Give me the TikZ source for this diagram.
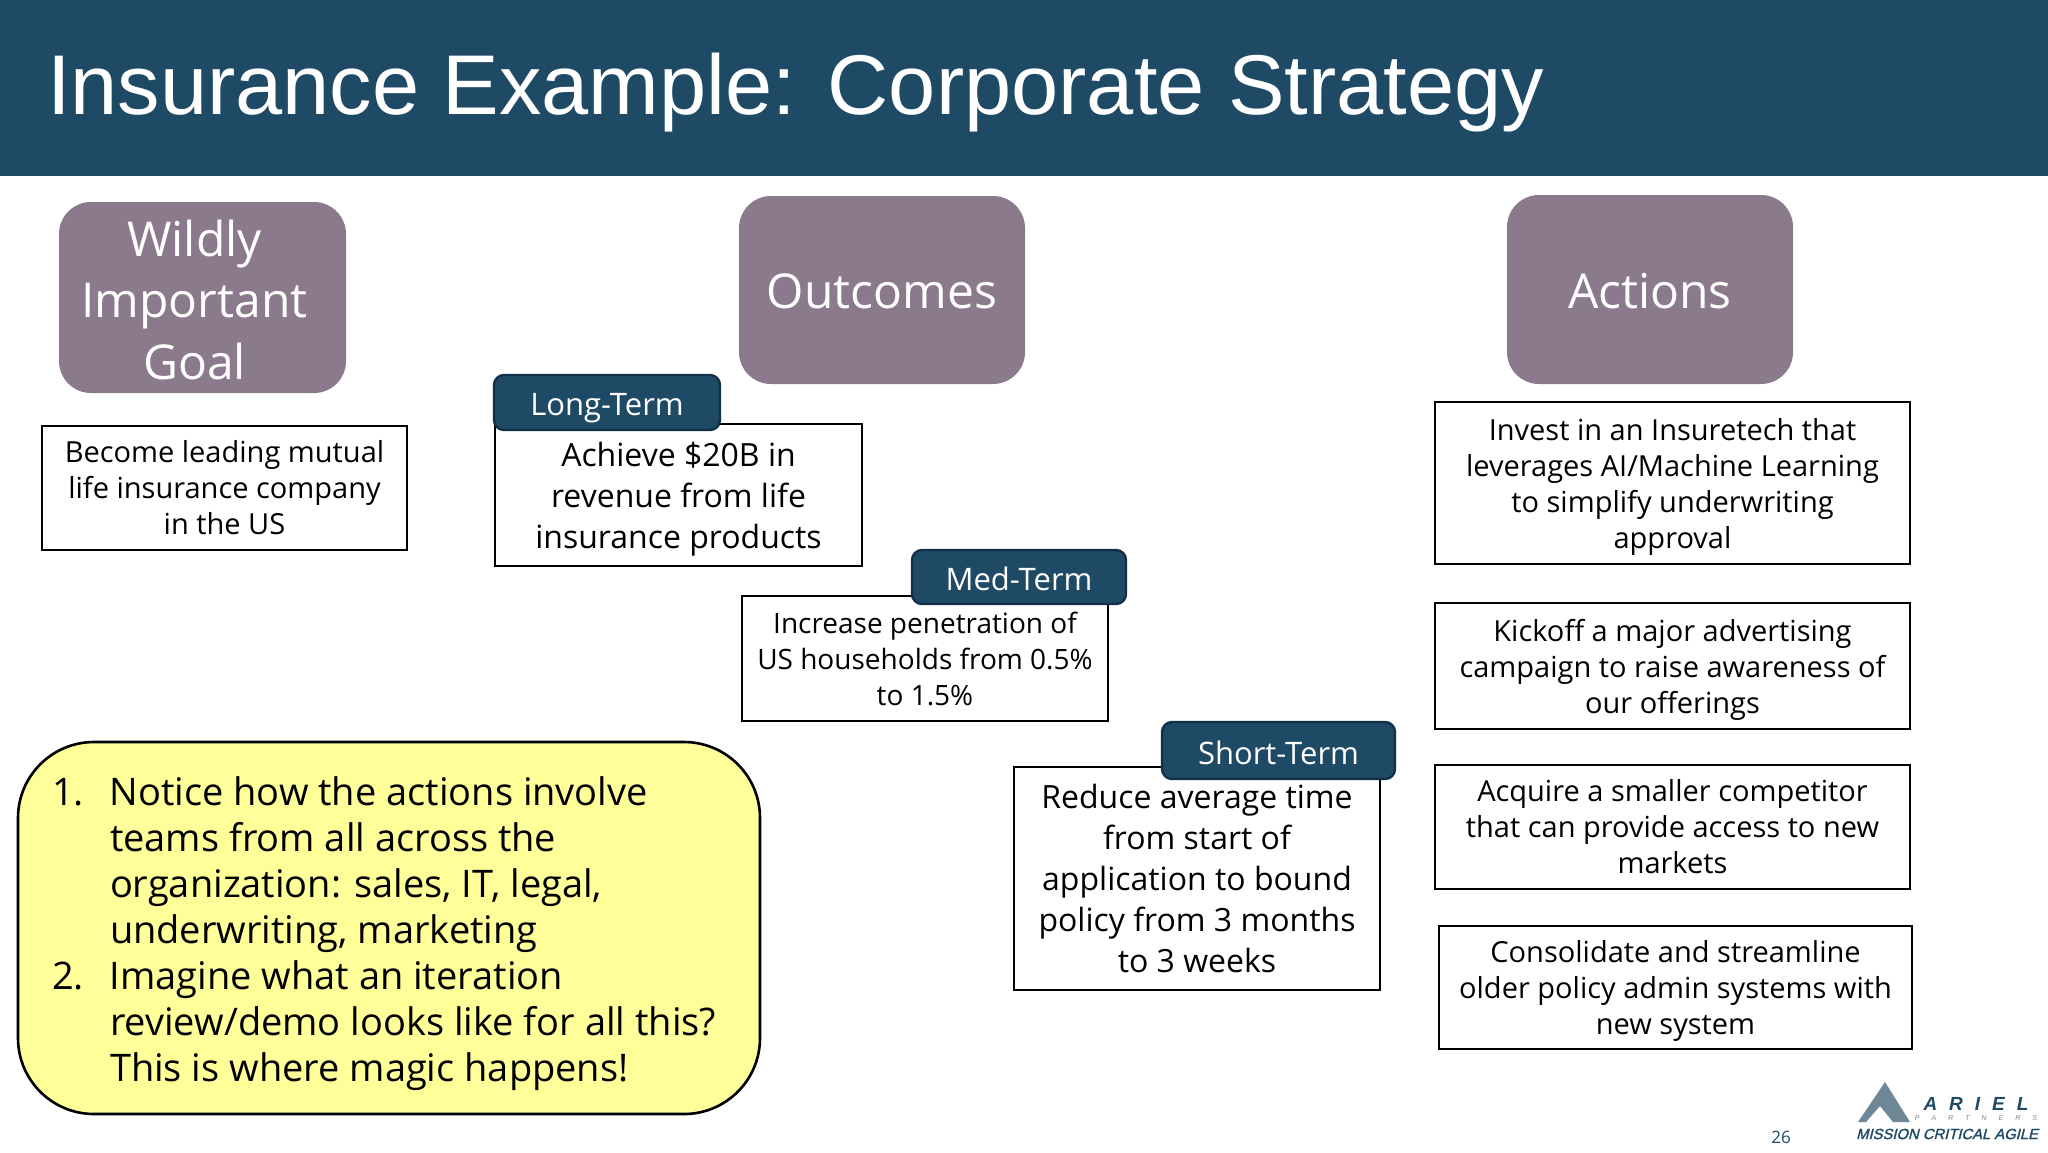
\documentclass[tikz,border=0pt]{standalone}
\usepackage{fontspec}
\setmainfont{Liberation Sans}
\newfontfamily\bodyfont{Open Sans}
\newfontfamily\logofont[FakeBold=1.6,FakeSlant=.25]{Liberation Sans}
\newcommand\pushtop[1]{\rule{0pt}{#1}}
\definecolor{headerblue}{HTML}{1F4A66}
\definecolor{tagedge}{HTML}{123047}
\definecolor{headmauve}{HTML}{8B7A8B}
\definecolor{noteyellow}{HTML}{FFFF99}
\definecolor{logoslate}{HTML}{6F8796}
\tikzset{
  headbox/.style={fill=headmauve,rounded corners=16pt,text=white,align=center,
    font=\bodyfont\fontsize{24}{30.7}\selectfont},
  textbox/.style={draw=black,line width=.6pt,fill=white,align=center,
    font=\bodyfont\fontsize{14.5}{18}\selectfont},
  bigbox/.style={textbox,font=\bodyfont\fontsize{16}{20.5}\selectfont},
  tagbox/.style={draw=tagedge,line width=1.2pt,fill=headerblue,rounded corners=5pt,text=white,
    font=\bodyfont\fontsize{15.5}{18}\selectfont},
}
\begin{document}
\begin{tikzpicture}[x=.5pt,y=-.5pt,inner sep=0pt,outer sep=0pt]
\useasboundingbox (0,0) rectangle (2048,1152);
\fill[headerblue] (0,0) rectangle (2048,176);
\node[anchor=west,text=white,font=\fontsize{42.4}{50}\selectfont] (title) at (47,93) {Insurance Example: Corporate Strategy};

\node[headbox,minimum width=143.5pt,minimum height=95.5pt] (goalhead) at (202.5,297.5) {\pushtop{20.5pt}Wildly\rule{8pt}{0pt}\\Important\rule{8pt}{0pt}\\Goal\rule{8pt}{0pt}};
\node[headbox,minimum width=143pt,minimum height=94pt] (outhead) at (882,290) {\pushtop{19pt}Outcomes};
\node[headbox,minimum width=143pt,minimum height=94.5pt] (acthead) at (1650,289.5) {\pushtop{19pt}Actions};

\node[textbox,minimum width=182.5pt,minimum height=62pt] (goal) at (224.5,488) {Become leading mutual\\life insurance company\\in the US};

\node[bigbox,minimum width=183.5pt,minimum height=71pt] (longbox) at (678.5,495) {\pushtop{16.5pt}Achieve \$20B in\\revenue from life\\insurance products};
\node[tagbox,minimum width=113pt,minimum height=27.5pt] (longtag) at (607,402.5) {\pushtop{17pt}Long-Term};
\node[textbox,font=\bodyfont\fontsize{14}{18}\selectfont,minimum width=183pt,minimum height=62.5pt] (medbox) at (925,658.5) {Increase penetration of\\US households from 0.5\%\\to 1.5\%};
\node[tagbox,minimum width=107pt,minimum height=27pt] (medtag) at (1019,577) {\pushtop{14pt}Med-Term};
\node[bigbox,minimum width=183pt,minimum height=111.5pt] (shortbox) at (1197,878.5) {Reduce average time\\from start of\\application to bound\\policy from 3 months\\to 3 weeks};
\node[tagbox,minimum width=116.5pt,minimum height=28.5pt] (shorttag) at (1278.5,750.5) {\pushtop{14pt}Short-Term};

\node[textbox,minimum width=237.5pt,minimum height=81pt] (act1) at (1672.5,483) {\pushtop{14.5pt}Invest in an Insuretech that\\leverages AI/Machine Learning\\to simplify underwriting\\approval};
\node[textbox,minimum width=237.5pt,minimum height=63pt] (act2) at (1672.5,666) {\pushtop{14.5pt}Kickoff a major advertising\\campaign to raise awareness of\\our offerings};
\node[textbox,minimum width=237.5pt,minimum height=62pt] (act3) at (1672.5,827) {Acquire a smaller competitor\\that can provide access to new\\markets};
\node[textbox,minimum width=236.5pt,minimum height=61.5pt] (act4) at (1675.5,987.5) {\pushtop{14pt}Consolidate and streamline\\older policy admin systems with\\new system};

\node[draw=black,line width=1.3pt,fill=noteyellow,rounded corners=38pt,minimum width=371pt,minimum height=186pt] (notebox) at (389,928) {};
\node[anchor=north west,align=left,font=\bodyfont\fontsize{19}{23}\selectfont] (notelist) at (52,777) {%
1.\hspace{.68em}Notice how the actions involve\\
\hspace*{29pt}teams from all across the\\
\hspace*{29pt}organization: sales, IT, legal,\\
\hspace*{29pt}underwriting, marketing\\
2.\hspace{.68em}Imagine what an iteration\\
\hspace*{29pt}review/demo looks like for all this?\\
\hspace*{29pt}This is where magic happens!};

\node[text=headerblue,font=\bodyfont\fontsize{8.5}{10}\selectfont] (pagenum) at (1781,1137) {26};
% logo
\fill[logoslate] (1885,1082) -- (1910,1122) -- (1893,1122) -- (1880,1106) -- (1866,1122) -- (1858,1122) -- cycle;
\node[text=headerblue,font=\bfseries\itshape\fontsize{9.5}{10}\selectfont] (logoname) at (1976,1104) {A\hspace{6pt}R\hspace{6pt}I\hspace{6pt}E\hspace{6pt}L};
\node[text=logoslate,font=\itshape\fontsize{3.5}{4}\selectfont] (logopart) at (1976,1118) {P\hspace{6pt}A\hspace{6pt}R\hspace{6pt}T\hspace{6pt}N\hspace{6pt}E\hspace{6pt}R\hspace{6pt}S};
\node[text=headerblue,font=\logofont\fontsize{7.4}{8}\selectfont] (logotag) at (1947,1134) {MISSION CRITICAL AGILE};
\end{tikzpicture}
\end{document}
